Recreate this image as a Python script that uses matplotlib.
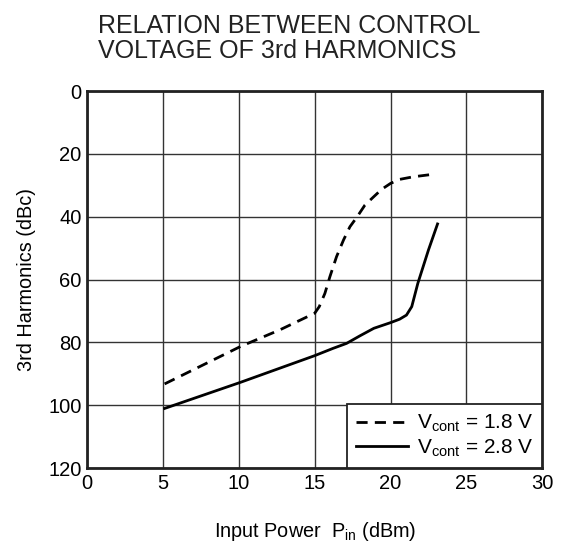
import matplotlib
matplotlib.use("Agg")
import matplotlib.pyplot as plt

plt.rcParams['font.family'] = ['Liberation Sans', 'DejaVu Sans']
plt.rcParams['mathtext.fontset'] = 'custom'
plt.rcParams['mathtext.rm'] = 'Liberation Sans'
plt.rcParams['mathtext.it'] = 'Liberation Sans'

# Data
pin_18 = [5.1, 10.1, 12.7, 15.0, 15.3, 15.67, 16.0, 16.44, 16.9, 17.32, 17.8,
          18.31, 18.9, 19.41, 20.0, 20.62, 21.49, 22.8]
h3_18 = [93.2, 81.3, 76.0, 70.7, 68.6, 64.4, 59.1, 52.7, 47.4, 43.2, 40.0,
         36.3, 33.6, 31.3, 29.4, 28.1, 27.3, 26.5]

pin_28 = [5.1, 10.1, 15.0, 16.2, 17.1, 17.98, 18.9, 20.0, 20.6, 21.05, 21.4,
          21.8, 22.5, 23.1]
h3_28 = [101.0, 92.7, 84.2, 81.9, 80.3, 77.9, 75.5, 73.7, 72.6, 71.3, 68.6,
         61.2, 50.6, 42.3]

labels = [r"V$_{\mathrm{cont}}$ = 1.8 V", r"V$_{\mathrm{cont}}$ = 2.8 V"]
x_ticks = [0, 5, 10, 15, 20, 25, 30]
y_ticks = [0, 20, 40, 60, 80, 100, 120]

fig = plt.figure(figsize=(5.63, 5.45), dpi=100)
ax = fig.add_axes([0.155, 0.141, 0.808, 0.692])

ax.plot(pin_18, h3_18, color='black', lw=2.0, ls=(0, (4, 2.6)), label=labels[0])
ax.plot(pin_28, h3_28, color='black', lw=2.0, ls='-', label=labels[1])

ax.set_xlim(0, 30)
ax.set_ylim(120, 0)
ax.set_xticks(x_ticks)
ax.set_yticks(y_ticks)
ax.tick_params(axis='x', length=0, labelsize=14.5, pad=4)
ax.tick_params(axis='y', length=0, labelsize=14.5, pad=4)
ax.grid(True, color='#333333', lw=1.0)
ax.set_axisbelow(True)
for s in ax.spines.values():
    s.set_linewidth(2.0)
    s.set_color('#222222')

ax.set_xlabel(r"Input Power  P$_{\mathrm{in}}$ (dBm)", fontsize=14.3, labelpad=20)
ax.set_ylabel("3rd Harmonics (dBc)", fontsize=14.3, labelpad=9)

leg = ax.legend(loc='lower left', bbox_to_anchor=(0.57, 0.0, 0.43, 0.167),
                mode='expand', borderaxespad=0, fancybox=False, framealpha=1,
                edgecolor='#222222', fontsize=15, handlelength=2.5,
                handletextpad=0.45, labelspacing=0.15, borderpad=0.45)
leg.get_frame().set_linewidth(1.3)

fig.text(0.174, 0.929, "RELATION BETWEEN CONTROL\nVOLTAGE OF 3rd HARMONICS",
         fontsize=18, ha='left', va='center', linespacing=1.05, color='#222222')

fig.savefig("out.png", dpi=100)
